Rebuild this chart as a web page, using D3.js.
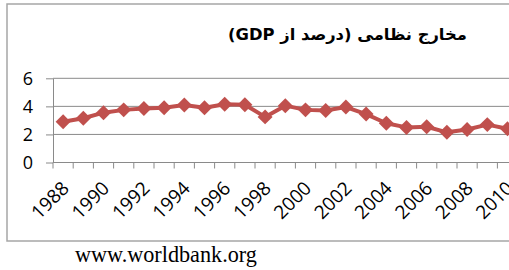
<!DOCTYPE html>
<html>
<head>
<meta charset="utf-8">
<script src="https://cdn.jsdelivr.net/npm/d3@7"></script>
<style>
  html, body { margin: 0; padding: 0; background: #fff; overflow: hidden; }
</style>
</head>
<body>
<svg width="509" height="270"></svg>
<script>
const years = [1988, 1989, 1990, 1991, 1992, 1993, 1994, 1995, 1996, 1997, 1998, 1999,
  2000, 2001, 2002, 2003, 2004, 2005, 2006, 2007, 2008, 2009, 2010];
const spending = [2.9, 3.15, 3.55, 3.75, 3.85, 3.9, 4.1, 3.9, 4.15, 4.12, 3.25, 4.05,
  3.75, 3.7, 3.95, 3.45, 2.8, 2.5, 2.55, 2.15, 2.35, 2.7, 2.4];
const yTicks = [0, 2, 4, 6];
const titleText = "مخارج نظامی (درصد از GDP)";
const sourceText = "www.worldbank.org";

const svg = d3.select("svg");
const red = "#c0504d";
const grey = "#8a8a8a";

// chart frame (runs past the right edge like the original)
svg.append("rect")
  .attr("x", 7).attr("y", 4)
  .attr("width", 700).attr("height", 237)
  .attr("fill", "#fff")
  .attr("stroke", "#a6a6a6")
  .attr("stroke-width", 1.5);

// scales
const x = d3.scaleBand()
  .domain(years)
  .range([53, 517.6]);

const y = d3.scaleLinear()
  .domain([0, 6])
  .range([162.5, 78.3]);

// gridlines
svg.append("g")
  .selectAll("line")
  .data(yTicks.filter(d => d > 0))
  .join("line")
  .attr("x1", 53).attr("x2", 600)
  .attr("y1", d => y(d)).attr("y2", d => y(d))
  .attr("stroke", grey)
  .attr("stroke-width", 1);

// y axis
const yAxis = svg.append("g")
  .attr("transform", "translate(53,0)")
  .call(d3.axisLeft(y).tickValues(yTicks).tickFormat(d3.format("d"))
    .tickSize(7).tickPadding(13).tickSizeOuter(0));
yAxis.select(".domain").attr("stroke", grey);
yAxis.selectAll(".tick line").attr("stroke", grey);
yAxis.selectAll(".tick text")
  .attr("fill", "#000")
  .style("font-family", "'Open Sans', sans-serif")
  .style("font-size", "18px");

// x axis: ticks at band edges, labels every other year
const edges = years.map(d => x(d)).concat([x(years[years.length - 1]) + x.bandwidth()]);
svg.append("line")
  .attr("x1", 53).attr("x2", 600)
  .attr("y1", y(0)).attr("y2", y(0))
  .attr("stroke", grey);
svg.append("g")
  .selectAll("line")
  .data(edges)
  .join("line")
  .attr("x1", d => d).attr("x2", d => d)
  .attr("y1", y(0)).attr("y2", y(0) + 6)
  .attr("stroke", grey);

svg.append("g")
  .selectAll("text")
  .data(years.filter((d, i) => i % 2 === 0))
  .join("text")
  .attr("transform", d => `translate(${x(d) + x.bandwidth() / 2 + 7},${y(0) + 27}) rotate(-45)`)
  .attr("text-anchor", "end")
  .style("font-family", "'Open Sans', sans-serif")
  .style("font-size", "19px")
  .attr("fill", "#000")
  .text(d => d);

// series line + diamond markers
const line = d3.line()
  .x((d, i) => x(years[i]) + x.bandwidth() / 2)
  .y(d => y(d));

svg.append("path")
  .datum(spending)
  .attr("d", line)
  .attr("fill", "none")
  .attr("stroke", red)
  .attr("stroke-width", 4)
  .attr("stroke-linejoin", "round");

const diamond = d3.symbol(d3.symbolSquare, 112);
svg.append("g")
  .selectAll("path")
  .data(spending)
  .join("path")
  .attr("d", diamond)
  .attr("transform", (d, i) => `translate(${x(years[i]) + x.bandwidth() / 2},${y(d)}) rotate(45)`)
  .attr("fill", red);

// title (fit to the width seen in the original)
const title = svg.append("text")
  .attr("x", 347.5).attr("y", 40)
  .attr("text-anchor", "middle")
  .attr("direction", "rtl")
  .style("font-family", "'DejaVu Sans', sans-serif")
  .style("font-weight", "bold")
  .style("font-size", "16px")
  .attr("fill", "#000")
  .text(titleText);
const tw = title.node().getComputedTextLength();
title.style("font-size", (16 * 239 / tw) + "px");

// source line under the chart
const src = svg.append("text")
  .attr("x", 75).attr("y", 262)
  .style("font-family", "'Liberation Serif', serif")
  .style("font-size", "18px")
  .attr("fill", "#000")
  .text(sourceText);
const sw = src.node().getComputedTextLength();
src.style("font-size", (18 * 182 / sw) + "px");
</script>
</body>
</html>
